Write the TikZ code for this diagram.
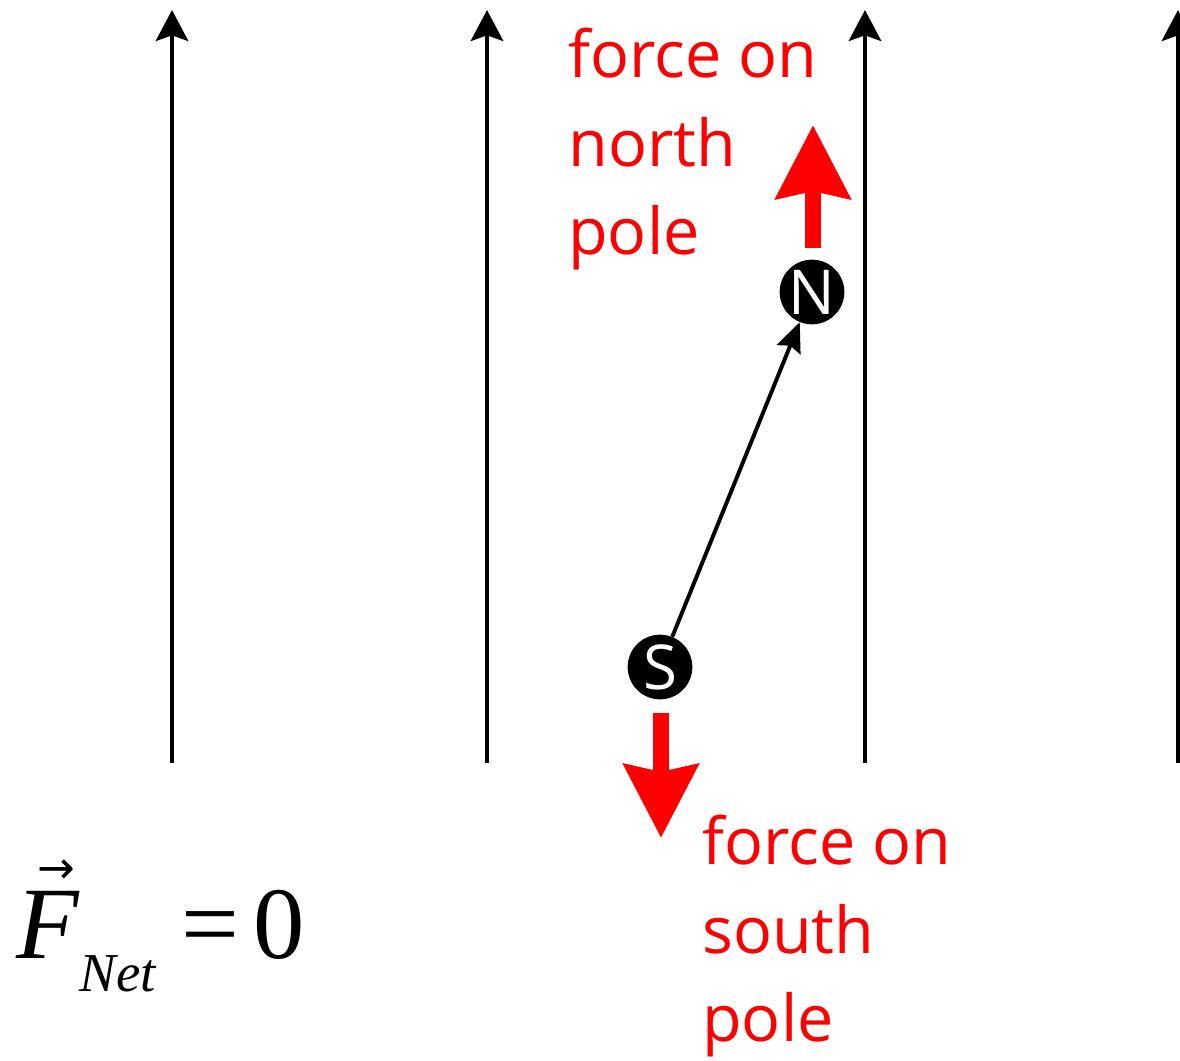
\documentclass[tikz,border=0pt]{standalone}
\usepackage{fontspec}
\setmainfont{Liberation Serif}
\setsansfont{Open Sans}
\newfontfamily\arrowfont{DejaVu Sans}
\usetikzlibrary{arrows.meta,positioning}

\begin{document}
\begin{tikzpicture}[
  x=0.025cm, y=-0.025cm,
  field/.style={line width=3.2pt, -{Stealth[length=22pt, width=23pt, inset=4pt]}},
  pole/.style={circle, fill=black, minimum size=46pt, inner sep=0pt, text=white, font=\sffamily\fontsize{44}{44}\selectfont},
  needle/.style={line width=2.8pt, -{Stealth[length=21pt, width=18pt, inset=3pt]}},
  force/.style={red, line width=11.4pt, -{Stealth[length=52pt, width=52pt, inset=5pt]}},
  lbl/.style={text=red, align=left, inner sep=0pt, anchor=north west, font=\sffamily\fontsize{46}{63}\selectfont}
]
\useasboundingbox (0,0) rectangle (1180,1061);

% field lines
\foreach \fx in {172,487,865,1178}
  \draw[field] (\fx,763) -- (\fx,10);

% compass needle
\node[pole] (npole) at (812,292) {N};
\node[pole] (spole) at (660,667) {S};
\draw[needle] (spole) -- (npole);

% forces on the poles
\coordinate (ntip) at (813,125);
\coordinate (nbase) at (813,248);
\coordinate (stip) at (661,838);
\coordinate (sbase) at (661,713);
\draw[force] (nbase) -- (ntip);
\draw[force] (sbase) -- (stip);

\node[lbl] (nlabel) at (568,28) {force on\\north\\pole};
\node[lbl] (slabel) at (702,815) {force on\\south\\pole};

% net force
\node[anchor=base west, inner sep=0pt, font=\fontsize{73}{80}\selectfont] (fnet) at (16,958)
  {\textit{F}\llap{\raisebox{53pt}{\arrowfont\fontsize{32}{32}\selectfont →}\hspace{3pt}}%
   \raisebox{-23.5pt}{\fontsize{39}{45}\selectfont\itshape Net}\hspace{18pt}=\hspace{10pt}0};
\end{tikzpicture}
\end{document}
